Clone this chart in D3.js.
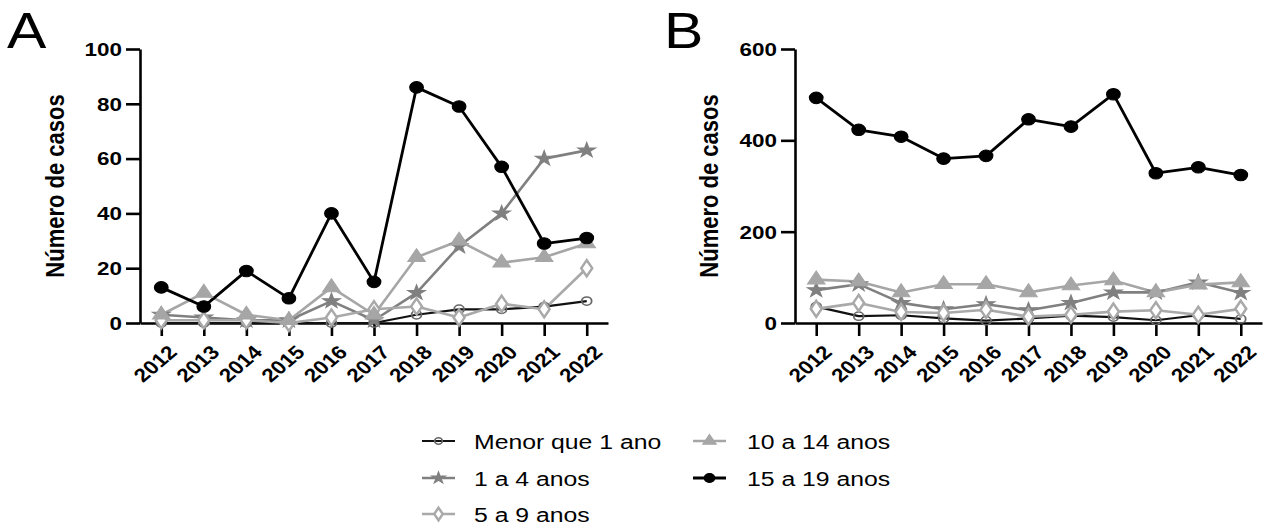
<!DOCTYPE html>
<html>
<head>
<meta charset="utf-8">
<script src="https://cdn.jsdelivr.net/npm/d3@7"></script>
<style>
  html, body { margin: 0; padding: 0; background: #fff; }
  svg { display: block; }
  text { font-family: "Liberation Sans", Arial, Helvetica, sans-serif; fill: #000; }
</style>
</head>
<body>
<svg id="chart" width="1264" height="529"></svg>
<script>
// ---------- data ----------
const years = ["2012","2013","2014","2015","2016","2017","2018","2019","2020","2021","2022"];
const seriesNames = ["Menor que 1 ano","1 a 4 anos","5 a 9 anos","10 a 14 anos","15 a 19 anos"];

// Panel A
const A_menor1 = [0,0,0,0,0,0,3,5,5,6,8];
const A_1a4    = [3,2,1,1,8,1,11,28,40,60,63];
const A_5a9    = [1,1,1,0,2,5,6,2,7,5,20];
const A_10a14  = [3,11,3,1,13,3,24,30,22,24,29];
const A_15a19  = [13,6,19,9,40,15,86,79,57,29,31];
const A_ticks  = [0,20,40,60,80,100];

// Panel B
const B_menor1 = [36,15,17,10,5,10,16,13,6,17,9];
const B_1a4    = [72,85,44,30,41,28,44,67,67,89,66];
const B_5a9    = [31,44,24,22,29,14,18,25,28,18,31];
const B_10a14  = [95,91,67,85,85,67,82,93,67,84,89];
const B_15a19  = [493,423,408,360,366,446,430,501,328,341,324];
const B_ticks  = [0,200,400,600];

// ---------- styles ----------
const SX = 1.18; // horizontal stretch of the original figure
const styles = [
  {name: seriesNames[0], line:"#111", lw:2.2, sym:"circle", size:55, fill:"none", stroke:"#666", sw:1.5},
  {name: seriesNames[1], line:"#808080", lw:2.6, sym:"star", size:70, fill:"#808080", stroke:"#808080", sw:1},
  {name: seriesNames[2], line:"#a9a9a9", lw:2.6, sym:"diamond", size:75, fill:"#fff", stroke:"#a9a9a9", sw:2.2},
  {name: seriesNames[3], line:"#a6a6a6", lw:2.6, sym:"triangle", size:95, fill:"#a6a6a6", stroke:"#a6a6a6", sw:1},
  {name: seriesNames[4], line:"#000", lw:2.8, sym:"circle", size:105, fill:"#000", stroke:"#000", sw:1}
];
const symMap = {circle:d3.symbolCircle, star:d3.symbolStar, diamond:d3.symbolDiamond, triangle:d3.symbolTriangle};

const svg = d3.select("#chart");
svg.append("rect").attr("width",1264).attr("height",529).attr("fill","#fff");

function stretchText(g, x, y, str, opts) {
  const t = g.append("text")
    .attr("transform", `translate(${x},${y}) scale(${SX},1)` + (opts.rot ? ` rotate(${opts.rot})` : ""))
    .attr("font-size", opts.size)
    .attr("font-weight", opts.weight || "normal")
    .attr("text-anchor", opts.anchor || "start")
    .text(str);
  if (opts.dy) t.attr("dy", opts.dy);
  return t;
}

function panel(cfg) {
  const g = svg.append("g");
  const x = d3.scalePoint().domain(years).range(cfg.xRange).padding(0.5);
  const y = d3.scaleLinear().domain(cfg.yDomain).range([323, 49]);

  // y axis
  const yAx = g.append("g").attr("transform", `translate(${cfg.xRange[0]},0)`)
    .call(d3.axisLeft(y).tickValues(cfg.ticks).tickSize(14).tickSizeOuter(0).tickFormat(""));
  yAx.select(".domain").attr("stroke","#000").attr("stroke-width",2.6);
  yAx.selectAll(".tick line").attr("stroke","#000").attr("stroke-width",2.6);
  cfg.ticks.forEach(v => stretchText(g, cfg.xRange[0]-18, y(v), String(v), {size:19, weight:"bold", anchor:"end", dy:"0.36em"}));

  // x axis
  const xAx = g.append("g").attr("transform", `translate(0,323)`)
    .call(d3.axisBottom(x).tickSize(13).tickSizeOuter(0).tickFormat(""));
  xAx.select(".domain").attr("stroke","#000").attr("stroke-width",2.6);
  xAx.selectAll(".tick line").attr("stroke","#000").attr("stroke-width",2.6);
  years.forEach(yr => stretchText(g, x(yr)+6, 344, yr, {size:19, weight:"bold", anchor:"end", rot:-45, dy:"0.7em"}));

  // y label
  stretchText(g, cfg.labelX, 186, "Número de casos", {size:22, weight:"bold", anchor:"middle", rot:-90});
  // panel letter
  stretchText(g, cfg.letterX, 48, cfg.letter, {size:50});

  // series
  const line = d3.line().x((d,i)=>x(years[i])).y(d=>y(d));
  cfg.data.forEach((vals, si) => {
    const st = styles[si];
    g.append("path").datum(vals).attr("d", line)
      .attr("fill","none").attr("stroke", st.line).attr("stroke-width", st.lw)
      .attr("stroke-linejoin","round");
  });
  cfg.data.forEach((vals, si) => {
    const st = styles[si];
    const sym = d3.symbol().type(symMap[st.sym]).size(st.size);
    g.selectAll(null).data(vals).enter().append("path")
      .attr("d", sym)
      .attr("transform", (d,i)=>`translate(${x(years[i])},${y(d)}) scale(${SX},1)`)
      .attr("fill", st.fill).attr("stroke", st.stroke).attr("stroke-width", st.sw);
  });
}

panel({xRange:[140,608], yDomain:[0,100], ticks:A_ticks, labelX:64, letterX:7, letter:"A",
       data:[A_menor1, A_1a4, A_5a9, A_10a14, A_15a19]});
panel({xRange:[795,1262], yDomain:[0,600], ticks:B_ticks, labelX:718, letterX:664, letter:"B",
       data:[B_menor1, B_1a4, B_5a9, B_10a14, B_15a19]});

// ---------- legend ----------
const legendPos = [
  {sx:422, tx:474, cy:441}, {sx:422, tx:474, cy:478}, {sx:422, tx:474, cy:514},
  {sx:693, tx:747, cy:441}, {sx:693, tx:747, cy:478}
];
const lg = svg.append("g");
styles.forEach((st, i) => {
  const p = legendPos[i];
  lg.append("line").attr("x1", p.sx).attr("x2", p.sx+33).attr("y1", p.cy).attr("y2", p.cy)
    .attr("stroke", st.line).attr("stroke-width", st.lw);
  const sym = d3.symbol().type(symMap[st.sym]).size(st.size*0.6);
  lg.append("path").attr("d", sym)
    .attr("transform", `translate(${p.sx+16.5},${p.cy}) scale(${SX},1)`)
    .attr("fill", st.fill).attr("stroke", st.stroke).attr("stroke-width", st.sw);
  stretchText(lg, p.tx, p.cy+8, st.name, {size:21});
});
</script>
</body>
</html>
